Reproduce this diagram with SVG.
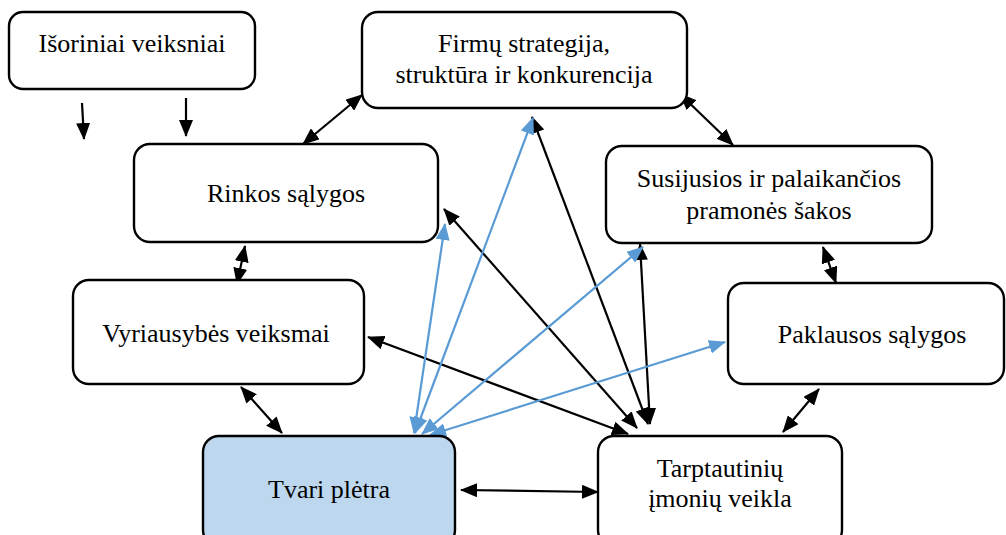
<svg xmlns="http://www.w3.org/2000/svg" width="1006" height="535" viewBox="0 0 1006 535">
<style>
.box{fill:#fff;stroke:#000;stroke-width:2.4}
.hl{fill:#BDD7EE}
.t{font-family:"Liberation Serif","Times New Roman",serif;font-size:26px;fill:#000;text-anchor:middle}
.k{stroke:#000;stroke-width:2.2;fill:none}
.b{stroke:#5B9BD5;stroke-width:2.2;fill:none}
</style>
<defs>
<marker id="ak" markerUnits="userSpaceOnUse" markerWidth="17" markerHeight="14" refX="16" refY="7" orient="auto-start-reverse" viewBox="0 0 17 14"><path d="M0,0 L17,7 L0,14 z" fill="#000"/></marker>
<marker id="ab" markerUnits="userSpaceOnUse" markerWidth="17" markerHeight="14" refX="16" refY="7" orient="auto-start-reverse" viewBox="0 0 17 14"><path d="M0,0 L17,7 L0,14 z" fill="#5B9BD5"/></marker>
</defs>
<rect width="1006" height="535" fill="#fff"/>
<g id="connectors">
<line class="k" x1="82" y1="103" x2="84" y2="139" marker-end="url(#ak)"/>
<line class="k" x1="186" y1="98" x2="186" y2="136" marker-end="url(#ak)"/>
<line class="k" x1="303" y1="144" x2="362" y2="95" marker-start="url(#ak)" marker-end="url(#ak)"/>
<line class="k" x1="680" y1="94" x2="733" y2="145" marker-start="url(#ak)" marker-end="url(#ak)"/>
<line class="k" x1="245" y1="246" x2="237" y2="284" marker-start="url(#ak)" marker-end="url(#ak)"/>
<line class="k" x1="823" y1="247" x2="836" y2="283" marker-start="url(#ak)" marker-end="url(#ak)"/>
<line class="k" x1="241" y1="387" x2="282" y2="433" marker-start="url(#ak)" marker-end="url(#ak)"/>
<line class="k" x1="819" y1="389" x2="783" y2="432" marker-start="url(#ak)" marker-end="url(#ak)"/>
<line class="k" x1="461" y1="490" x2="598" y2="492" marker-start="url(#ak)" marker-end="url(#ak)"/>
<line class="k" x1="368" y1="337" x2="628" y2="434" marker-start="url(#ak)" marker-end="url(#ak)"/>
<line class="k" x1="444" y1="209" x2="637" y2="428" marker-start="url(#ak)" marker-end="url(#ak)"/>
<line class="k" x1="532" y1="117" x2="648" y2="424" marker-start="url(#ak)" marker-end="url(#ak)"/>
<line class="k" x1="640" y1="244" x2="650" y2="424" marker-start="url(#ak)" marker-end="url(#ak)"/>
<line class="b" x1="533" y1="118" x2="415" y2="433" marker-start="url(#ab)" marker-end="url(#ab)"/>
<line class="b" x1="445" y1="224" x2="414" y2="433" marker-start="url(#ab)" marker-end="url(#ab)"/>
<line class="b" x1="643" y1="247" x2="422" y2="434" marker-start="url(#ab)" marker-end="url(#ab)"/>
<line class="b" x1="725" y1="342" x2="430" y2="435" marker-start="url(#ab)" marker-end="url(#ab)"/>
</g>
<g id="isoriniai"><rect class="box" x="9" y="12" width="246" height="77" rx="14"/><text class="t" x="132" y="52">Išoriniai veiksniai</text></g>
<g id="firmu"><rect class="box" x="362" y="12" width="325" height="96" rx="16"/><text class="t" x="524" y="52">Firmų strategija,</text><text class="t" x="524" y="83">struktūra ir konkurencija</text></g>
<g id="rinkos"><rect class="box" x="134" y="144" width="304" height="98" rx="16"/><text class="t" x="286" y="202">Rinkos sąlygos</text></g>
<g id="susijusios"><rect class="box" x="606" y="146" width="326" height="97" rx="16"/><text class="t" x="769" y="187">Susijusios ir palaikančios</text><text class="t" x="769" y="219">pramonės šakos</text></g>
<g id="vyriausybes"><rect class="box" x="73" y="280" width="291" height="104" rx="16"/><text class="t" x="216" y="342">Vyriausybės veiksmai</text></g>
<g id="paklausos"><rect class="box" x="728" y="283" width="276" height="101" rx="16"/><text class="t" x="872" y="343">Paklausos sąlygos</text></g>
<g id="tarptautiniu"><rect class="box" x="598" y="436" width="244" height="110" rx="16"/><text class="t" x="720" y="477">Tarptautinių</text><text class="t" x="720" y="507">įmonių veikla</text></g>
<g id="tvari"><rect class="box hl" x="203" y="436" width="252" height="110" rx="16"/><text class="t" x="329" y="498">Tvari plėtra</text></g>
</svg>
